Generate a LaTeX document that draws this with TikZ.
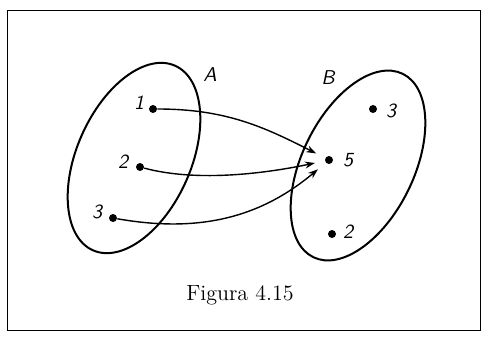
\documentclass[tikz,border=0pt]{standalone}
\usetikzlibrary{arrows.meta}
\begin{document}
\begin{tikzpicture}[x=0.5pt,y=0.5pt,
      insieme/.style={draw,line width=1pt},
      punto/.style={circle,fill,inner sep=0pt,minimum size=4pt},
      etich/.style={font=\normalsize\sffamily\itshape},
      freccia/.style={-{Stealth[length=5pt,width=3.5pt]},line width=0.7pt,shorten >=5pt}]
    \useasboundingbox (0,0) rectangle (486,337);
    \draw[line width=0.5pt] (7,7) rectangle (480,326);
    % --- insieme A ---
    \draw[insieme,shift={(134,179)},rotate=-24] (0,0) ellipse [x radius=57,y radius=101];
    \node[etich] (nA) at (210,262) {A};
    \foreach \n/\x/\y/\lx/\ly in {1/153/228/139/234, 2/140/170/123/175, 3/113/119/97/125}{
      \node[punto] (a\n) at (\x,\y) {};
      \node[etich] (la\n) at (\lx,\ly) {\n};
    }
    % --- insieme B ---
    \draw[insieme,shift={(358,171.5)},rotate=-26] (0,0) ellipse [x radius=56,y radius=102];
    \node[etich] (nB) at (328,259) {B};
    \foreach \n/\x/\y/\lx/\ly in {5/329/177/348/177, 3/373/228/391/226, 2/332/103/348/105}{
      \node[punto] (b\n) at (\x,\y) {};
      \node[etich] (lb\n) at (\lx,\ly) {\n};
    }
    % --- frecce ---
    \draw[freccia] (a1) to[out=0,in=153] (b5);
    \draw[freccia] (a2) to[out=-15,in=192,looseness=0.8] (b5);
    \draw[freccia] (a3) to[out=-10,in=220] (b5);
    \node[font=\fontsize{11}{13}\selectfont] (didasc) at (240,42) {Figura~4.15};
\end{tikzpicture}
\end{document}
